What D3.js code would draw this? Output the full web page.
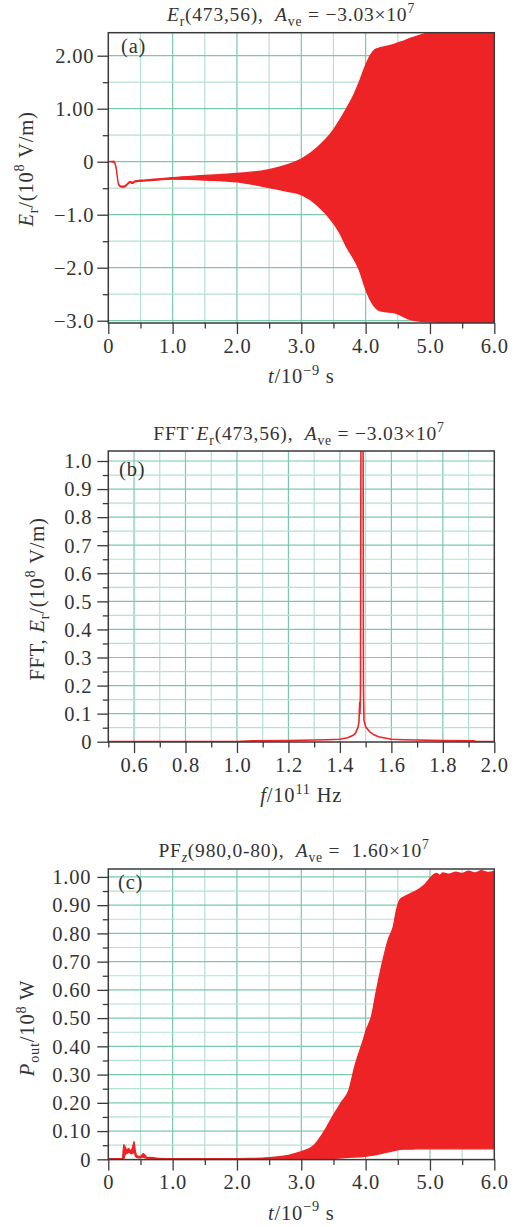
<!DOCTYPE html>
<html>
<head>
<meta charset="utf-8">
<script src="https://cdn.jsdelivr.net/npm/d3@7"></script>
<style>
  html, body { margin: 0; padding: 0; background: #fff; }
  svg { display: block; font-family: "Liberation Serif", "Times New Roman", serif; }
</style>
</head>
<body>
<svg id="fig" width="526" height="1227"></svg>
<script>
// ---------- (a) E_r(473,56) time signal: envelope of the oscillation ----------
const timeA  = [0, 0.09, 0.12, 0.16, 0.20, 0.24, 0.30, 0.34, 0.37, 0.42,
                0.5, 0.7, 1.0, 1.5, 2.0, 2.5, 2.75, 3.0, 3.25, 3.5,
                3.6, 3.7, 3.8, 3.9, 4.0, 4.07, 4.13, 4.2, 4.3, 4.45,
                4.55, 4.7, 4.85, 5.0, 5.3, 6.0];
const upperA = [0, 0.01, -0.1, -0.42, -0.46, -0.46, -0.41, -0.37, -0.39, -0.36,
                -0.35, -0.33, -0.30, -0.26, -0.22, -0.15, -0.07, 0.05, 0.27, 0.6,
                0.79, 1.0, 1.22, 1.5, 1.82, 2.0, 2.1, 2.14, 2.17, 2.22,
                2.26, 2.33, 2.39, 2.43, 2.45, 2.45];
const lowerA = [0, -0.01, -0.12, -0.44, -0.48, -0.48, -0.43, -0.39, -0.41, -0.38,
                -0.37, -0.35, -0.33, -0.345, -0.38, -0.49, -0.55, -0.62, -0.82, -1.16,
                -1.35, -1.6, -1.8, -2.04, -2.4, -2.6, -2.72, -2.8, -2.83, -2.85,
                -2.9, -2.98, -3.01, -3.02, -3.03, -3.03];

// ---------- (b) FFT spectrum of E_r ----------
const freqB = [0.5, 1.0, 1.06, 1.2, 1.3, 1.35, 1.4, 1.43, 1.45, 1.46,
               1.47, 1.474, 1.477, 1.478, 1.48, 1.482, 1.49, 1.4915, 1.4935, 1.5,
               1.515, 1.53, 1.55, 1.6, 1.65, 1.7, 1.8, 1.92, 1.93, 2.0];
const ampB  = [0.001, 0.001, 0.003, 0.004, 0.006, 0.007, 0.009, 0.014, 0.022, 0.03,
               0.05, 0.07, 0.14, 0.10, 0.18, 1.2, 1.2, 0.2, 0.077, 0.053,
               0.036, 0.026, 0.018, 0.009, 0.007, 0.006, 0.004, 0.003, 0.001, 0.001];

// ---------- (c) output power PF_z(980,0-80): envelope ----------
const timeC  = [0, 0.2, 0.22, 0.24, 0.27, 0.29, 0.31, 0.33, 0.35, 0.38,
                0.40, 0.42, 0.45, 0.5, 0.54, 0.57, 0.6, 0.7, 0.8, 1.0,
                2.0, 2.2, 2.5, 2.8, 3.0, 3.2, 3.37, 3.5, 3.63, 3.74,
                3.83, 3.96, 4.01, 4.09, 4.17, 4.27, 4.35, 4.43, 4.48, 4.53,
                4.6, 4.69, 4.78, 4.85, 4.93, 5.0, 5.05, 5.1, 5.15, 5.2,
                5.3, 5.4, 5.5, 5.6, 5.7, 5.8, 5.9, 6.0];
const upperC = [0.002, 0.002, 0.003, 0.052, 0.04, 0.032, 0.038, 0.036, 0.03, 0.045,
                0.063, 0.03, 0.012, 0.01, 0.02, 0.015, 0.007, 0.006, 0.003, 0.002,
                0.002, 0.003, 0.006, 0.014, 0.027, 0.05, 0.104, 0.157, 0.204, 0.245,
                0.328, 0.42, 0.458, 0.505, 0.6, 0.706, 0.777, 0.824, 0.883, 0.918,
                0.93, 0.94, 0.95, 0.96, 0.975, 0.995, 1.007, 1.012, 1.006, 1.014,
                1.01, 1.017, 1.012, 1.02, 1.014, 1.022, 1.016, 1.02];
const lowerC = [0, 0, 0, 0.002, 0.02, 0.02, 0.025, 0.025, 0.02, 0.02,
                0.03, 0.012, 0.006, 0.005, 0.008, 0.005, 0.003, 0.002, 0.001, 0,
                0, 0, 0, 0, 0, 0, 0.001, 0.003, 0.005, 0.007,
                0.008, 0.01, 0.011, 0.014, 0.017, 0.022, 0.026, 0.03, 0.033, 0.035,
                0.036, 0.036, 0.037, 0.037, 0.037, 0.037, 0.037, 0.037, 0.037, 0.037,
                0.037, 0.037, 0.037, 0.037, 0.037, 0.037, 0.037, 0.037];

// ---------- ticks ----------
const timeTicks      = [0, 1, 2, 3, 4, 5, 6];
const timeTickLabels = ["0", "1.0", "2.0", "3.0", "4.0", "5.0", "6.0"];
const timeMinor      = [0.5, 1.5, 2.5, 3.5, 4.5, 5.5];

const eTicks      = [2, 1, 0, -1, -2, -3];
const eTickLabels = ["2.00", "1.00", "0", "\u22121.0", "\u22122.0", "\u22123.0"];
const eMinor      = [1.5, 0.5, -0.5, -1.5, -2.5];

const freqTicks      = [0.6, 0.8, 1.0, 1.2, 1.4, 1.6, 1.8, 2.0];
const freqTickLabels = ["0.6", "0.8", "1.0", "1.2", "1.4", "1.6", "1.8", "2.0"];
const freqMinor      = [0.5, 0.7, 0.9, 1.1, 1.3, 1.5, 1.7, 1.9];

const fftTicks      = [0, 0.1, 0.2, 0.3, 0.4, 0.5, 0.6, 0.7, 0.8, 0.9, 1.0];
const fftTickLabels = ["0", "0.1", "0.2", "0.3", "0.4", "0.5", "0.6", "0.7", "0.8", "0.9", "1.0"];
const fftMinor      = [0.05, 0.15, 0.25, 0.35, 0.45, 0.55, 0.65, 0.75, 0.85, 0.95];

const powTicks      = [0, 0.1, 0.2, 0.3, 0.4, 0.5, 0.6, 0.7, 0.8, 0.9, 1.0];
const powTickLabels = ["0", "0.10", "0.20", "0.30", "0.40", "0.50", "0.60", "0.70", "0.80", "0.90", "1.00"];
const powMinor      = [0.05, 0.15, 0.25, 0.35, 0.45, 0.55, 0.65, 0.75, 0.85, 0.95];

// ---------- styling ----------
const RED = "#ee2326";
const GRID_MAJOR = "#79c9ab";
const GRID_MINOR = "#b3e2d0";
const INK = "#333333";
const AXIS = "#3a3a3a";
const FS = 20.5;       // tick labels, axis titles
const FS_T = 19.5;     // panel titles
const LS = "0.8px";
const L = 108.3, R = 494.3;

const svg = d3.select("#fig");

// Writes mixed italic / subscript / superscript runs into a text element
function rich(text, parts, fs) {
  let shift = 0;
  parts.forEach(([s, kind]) => {
    const t = text.append("tspan").text(s);
    let target = 0;
    if (kind.includes("sub")) { target = 0.26 * fs; t.attr("font-size", 0.7 * fs); }
    if (kind.includes("sup")) { target = -0.4 * fs; t.attr("font-size", 0.7 * fs); }
    if (kind.includes("it")) t.attr("font-style", "italic");
    if (target !== shift) { t.attr("dy", target - shift); shift = target; }
  });
}

function drawPanel(cfg) {
  const g = svg.append("g");
  const x = d3.scaleLinear().domain(cfg.xDomain).range([L, R]);
  const y = d3.scaleLinear().domain(cfg.yDomain).range([cfg.bottom, cfg.top]);

  // grid: lighter lines on minor steps, stronger on labelled steps
  const grid = g.append("g").attr("stroke-width", 1.2);
  const inX = v => x(v) > L + 0.5 && x(v) < R - 0.5;
  const inY = v => y(v) < cfg.bottom - 0.5 && y(v) > cfg.top + 0.5;
  [[cfg.xMinor, GRID_MINOR], [cfg.xTicks, GRID_MAJOR]].forEach(([vals, c]) =>
    grid.selectAll(null).data(vals.filter(inX)).join("line")
      .attr("x1", d => x(d)).attr("x2", d => x(d))
      .attr("y1", cfg.top).attr("y2", cfg.bottom).attr("stroke", c));
  [[cfg.yMinor, GRID_MINOR], [cfg.yTicks, GRID_MAJOR]].forEach(([vals, c]) =>
    grid.selectAll(null).data(vals.filter(inY)).join("line")
      .attr("y1", d => y(d)).attr("y2", d => y(d))
      .attr("x1", L).attr("x2", R).attr("stroke", c));

  // data, clipped to the plotting box
  const clipId = "clip-" + cfg.id;
  g.append("clipPath").attr("id", clipId)
    .append("rect").attr("x", L).attr("y", cfg.top)
    .attr("width", R - L).attr("height", cfg.bottom - cfg.top);
  const plot = g.append("g").attr("clip-path", `url(#${clipId})`);
  cfg.draw(plot, x, y);

  // frame
  g.append("rect").attr("x", L).attr("y", cfg.top)
    .attr("width", R - L).attr("height", cfg.bottom - cfg.top)
    .attr("fill", "none").attr("stroke", AXIS).attr("stroke-width", 1.5);

  // axes: major ticks with labels, short minor ticks
  const styleAxis = a => {
    a.attr("font-family", null).attr("font-size", FS).attr("color", AXIS);
    a.select(".domain").remove();
    a.selectAll(".tick line").attr("stroke-width", 1.3);
    a.selectAll("text").attr("fill", INK).style("letter-spacing", LS);
  };
  const xa = g.append("g").attr("transform", `translate(0,${cfg.bottom})`)
    .call(d3.axisBottom(x).tickValues(cfg.xTicks).tickSize(11)
      .tickFormat((d, i) => cfg.xLabels[i]));
  styleAxis(xa);
  xa.selectAll("text").attr("dy", null).attr("y", 29.5);
  const xm = g.append("g").attr("transform", `translate(0,${cfg.bottom})`)
    .call(d3.axisBottom(x).tickValues(cfg.xMinor).tickSize(5.5).tickFormat(""));
  styleAxis(xm);

  const ya = g.append("g").attr("transform", `translate(${L},0)`)
    .call(d3.axisLeft(y).tickValues(cfg.yTicks).tickSize(11).tickPadding(cfg.yPad)
      .tickFormat((d, i) => cfg.yLabels[i]));
  styleAxis(ya);
  ya.selectAll("text").attr("dy", null).attr("y", 6.8);
  const ym = g.append("g").attr("transform", `translate(${L},0)`)
    .call(d3.axisLeft(y).tickValues(cfg.yMinor).tickSize(5.5).tickFormat(""));
  styleAxis(ym);

  // title
  const title = g.append("text").attr("x", cfg.titleX).attr("y", cfg.titleY)
    .attr("text-anchor", "middle").attr("font-size", FS_T).attr("fill", INK)
    .style("letter-spacing", LS).style("white-space", "pre");
  rich(title, cfg.title, FS_T);

  // panel letter
  g.append("text").attr("x", cfg.letterX).attr("y", cfg.letterY)
    .attr("font-size", FS).attr("fill", INK).style("letter-spacing", LS)
    .text(cfg.letter);

  // axis titles
  const xt = g.append("text").attr("x", (L + R) / 2).attr("y", cfg.bottom + 60)
    .attr("text-anchor", "middle").attr("font-size", FS).attr("fill", INK)
    .style("letter-spacing", LS).style("white-space", "pre");
  rich(xt, cfg.xTitle, FS);
  const yt = g.append("text")
    .attr("transform", `translate(${cfg.yTitleX},${cfg.yTitleY}) rotate(-90)`)
    .attr("text-anchor", "middle").attr("font-size", FS).attr("fill", INK)
    .style("letter-spacing", LS).style("white-space", "pre");
  rich(yt, cfg.yTitle, FS);
}

// envelope band of a fast oscillation
function band(times, lo, hi) {
  return (plot, x, y) => {
    const pts = times.map((t, i) => [t, lo[i], hi[i]]);
    plot.append("path").datum(pts)
      .attr("d", d3.area().curve(d3.curveMonotoneX)
        .x(d => x(d[0])).y0(d => y(d[1])).y1(d => y(d[2])))
      .attr("fill", RED).attr("stroke", RED).attr("stroke-width", 1.3)
      .attr("stroke-linejoin", "round");
  };
}

const tTitle = [["t", "it"], ["/10", ""], ["\u22129", "sup"], [" s", ""]];

drawPanel({
  id: "a", xDomain: [0, 6], yDomain: [-3.043, 2.434], top: 32.7, bottom: 323,
  xTicks: timeTicks, xLabels: timeTickLabels, xMinor: timeMinor,
  yTicks: eTicks, yLabels: eTickLabels, yMinor: eMinor, yPad: 3,
  title: [["E", "it"], ["r", "sub"], ["(473,56),  ", ""], ["A", "it"], ["ve", "sub"],
          [" = \u22123.03\u00d710", ""], ["7", "sup"]],
  titleX: 291, titleY: 20.5,
  letter: "(a)", letterX: 121, letterY: 52.5,
  xTitle: tTitle,
  yTitle: [["E", "it"], ["r", "sub"], ["/(10", ""], ["8", "sup"], [" V/m)", ""]],
  yTitleX: 32.5, yTitleY: 169,
  draw: band(timeA, lowerA, upperA)
});

drawPanel({
  id: "b", xDomain: [0.5, 2.0], yDomain: [-0.001, 1.0356], top: 451, bottom: 742,
  xTicks: freqTicks, xLabels: freqTickLabels, xMinor: freqMinor,
  yTicks: fftTicks, yLabels: fftTickLabels, yMinor: fftMinor, yPad: 5,
  title: [["FFT\u02d9", ""], ["E", "it"], ["r", "sub"], ["(473,56),  ", ""], ["A", "it"], ["ve", "sub"],
          [" = \u22123.03\u00d710", ""], ["7", "sup"]],
  titleX: 299, titleY: 439.5,
  letter: "(b)", letterX: 119, letterY: 476,
  xTitle: [["f", "it"], ["/10", ""], ["11", "sup"], [" Hz", ""]],
  yTitle: [["FFT, ", ""], ["E", "it"], ["r", "sub"], ["/(10", ""], ["8", "sup"], [" V/m)", ""]],
  yTitleX: 43.5, yTitleY: 599,
  draw: (plot, x, y) => {
    plot.append("path").datum(freqB.map((f, i) => [f, ampB[i]]))
      .attr("d", d3.line().x(d => x(d[0])).y(d => y(d[1])))
      .attr("fill", "none").attr("stroke", RED).attr("stroke-width", 1.6)
      .attr("stroke-linejoin", "round");
  }
});

drawPanel({
  id: "c", xDomain: [0, 6], yDomain: [-0.001, 1.028], top: 869, bottom: 1159.6,
  xTicks: timeTicks, xLabels: timeTickLabels, xMinor: timeMinor,
  yTicks: powTicks, yLabels: powTickLabels, yMinor: powMinor, yPad: 6,
  title: [["PF", ""], ["z", "sub it"], ["(980,0-80),  ", ""], ["A", "it"], ["ve", "sub"],
          [" =  1.60\u00d710", ""], ["7", "sup"]],
  titleX: 294, titleY: 857,
  letter: "(c)", letterX: 118, letterY: 889,
  xTitle: tTitle,
  yTitle: [["P", "it"], ["out", "sub"], ["/10", ""], ["8", "sup"], [" W", ""]],
  yTitleX: 34, yTitleY: 1028,
  draw: band(timeC, lowerC, upperC)
});
</script>
</body>
</html>
